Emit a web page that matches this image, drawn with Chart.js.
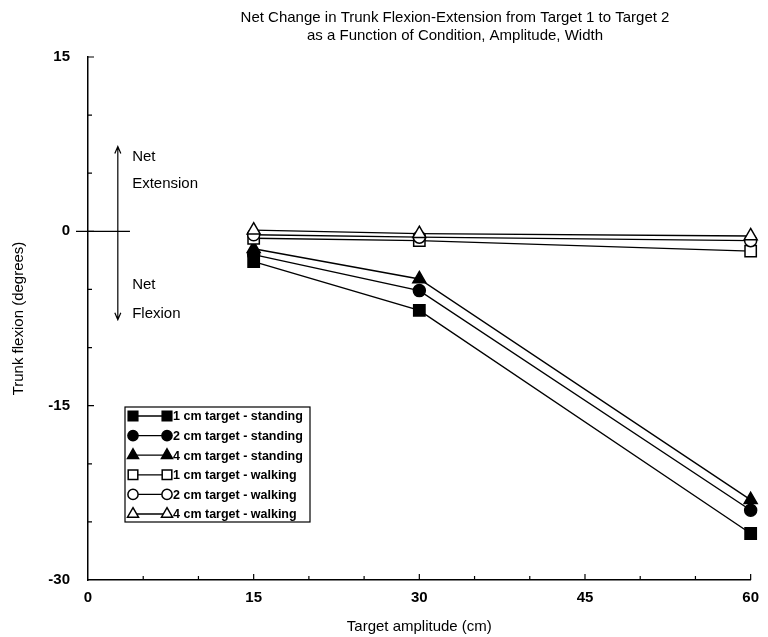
<!DOCTYPE html>
<html>
<head>
<meta charset="utf-8">
<script src="https://cdn.jsdelivr.net/npm/chart.js@4/dist/chart.umd.min.js"></script>
<style>
  html, body { margin: 0; padding: 0; background: #fff; }
  #wrap { width: 768px; height: 637px; }
</style>
</head>
<body>
<div id="wrap"><canvas id="chart" width="768" height="637"></canvas></div>
<script>
// Valori (gradi), per ampiezza del target
const amplitudes = [15, 30, 60];
const standing1cm = [-2.6, -6.8, -26.0];
const standing2cm = [-2.0, -5.1, -24.0];
const standing4cm = [-1.5, -4.1, -23.1];
const walking1cm = [-0.6, -0.8, -1.7];
const walking2cm = [-0.3, -0.5, -0.8];
const walking4cm = [0.1, -0.2, -0.4];

const seriesLabels = [
  '1 cm target - standing',
  '2 cm target - standing',
  '4 cm target - standing',
  '1 cm target - walking',
  '2 cm target - walking',
  '4 cm target - walking'
];

const xTickLabels = [0, 15, 30, 45, 60];
const yTickLabels = [15, 0, -15, -30];

const titleLines = [
  'Net Change in Trunk Flexion-Extension from Target 1 to Target 2',
  'as a Function of Condition, Amplitude, Width'
];

const FONT = "'Liberation Sans', Arial, Helvetica, sans-serif";

function toPoints(values) {
  return amplitudes.map((a, i) => ({ x: a, y: values[i] }));
}

function makeDataset(label, values, style, radius, filled) {
  return {
    label: label,
    data: toPoints(values),
    borderColor: '#000',
    borderWidth: 1.4,
    pointStyle: style,
    pointRadius: radius,
    pointHoverRadius: radius,
    pointBackgroundColor: filled ? '#000' : '#fff',
    pointBorderColor: '#000',
    pointBorderWidth: 1.5,
    tension: 0,
    clip: false
  };
}

const datasets = [
  makeDataset(seriesLabels[5], walking4cm, 'triangle', 7.5, false),
  makeDataset(seriesLabels[4], walking2cm, 'circle', 6, false),
  makeDataset(seriesLabels[3], walking1cm, 'rect', 8, false),
  makeDataset(seriesLabels[2], standing4cm, 'triangle', 7.5, true),
  makeDataset(seriesLabels[1], standing2cm, 'circle', 6, true),
  makeDataset(seriesLabels[0], standing1cm, 'rect', 8, true)
];

// Tacche interne sugli assi, linea dello zero, frecce e testi
const axisDecor = {
  id: 'axisDecor',
  beforeDatasetsDraw(chart) {
    const { ctx, chartArea, scales } = chart;
    const xs = scales.x, ys = scales.y;
    ctx.save();
    ctx.strokeStyle = '#000';
    ctx.lineWidth = 1.2;
    ctx.beginPath();
    xs.ticks.forEach(t => {
      if (t.value === 0) return;
      const px = xs.getPixelForValue(t.value);
      const len = t.value % 15 === 0 ? 6 : 4;
      ctx.moveTo(px, chartArea.bottom);
      ctx.lineTo(px, chartArea.bottom - len);
    });
    ys.ticks.forEach(t => {
      if (t.value === -30) return;
      const py = ys.getPixelForValue(t.value);
      const len = t.value % 15 === 0 ? 6 : 4;
      ctx.moveTo(chartArea.left, py);
      ctx.lineTo(chartArea.left + len, py);
    });
    ctx.stroke();

    // linea dello zero
    const y0 = ys.getPixelForValue(0);
    ctx.lineWidth = 1.2;
    ctx.beginPath();
    ctx.moveTo(chartArea.left - 12, y0);
    ctx.lineTo(xs.getPixelForValue(3.8), y0);
    ctx.stroke();

    // freccia doppia
    const ax = xs.getPixelForValue(2.7);
    const aTop = ys.getPixelForValue(7.3);
    const aBot = ys.getPixelForValue(-7.6);
    ctx.beginPath();
    ctx.moveTo(ax, aTop);
    ctx.lineTo(ax, aBot);
    ctx.moveTo(ax - 3, aTop + 7);
    ctx.lineTo(ax, aTop);
    ctx.lineTo(ax + 3, aTop + 7);
    ctx.moveTo(ax - 3, aBot - 7);
    ctx.lineTo(ax, aBot);
    ctx.lineTo(ax + 3, aBot - 7);
    ctx.stroke();

    ctx.fillStyle = '#000';
    ctx.font = '15px ' + FONT;
    ctx.textAlign = 'left';
    ctx.textBaseline = 'middle';
    const tx = xs.getPixelForValue(4.0);
    ctx.fillText('Net', tx, ys.getPixelForValue(6.4));
    ctx.fillText('Extension', tx, ys.getPixelForValue(4.1));
    ctx.fillText('Net', tx, ys.getPixelForValue(-4.6));
    ctx.fillText('Flexion', tx, ys.getPixelForValue(-7.1));
    ctx.restore();
  },
  afterDraw(chart) {
    const { ctx } = chart;
    ctx.save();
    // titolo su due righe
    ctx.fillStyle = '#000';
    ctx.font = '15px ' + FONT;
    ctx.textAlign = 'center';
    ctx.textBaseline = 'middle';
    ctx.fillText(titleLines[0], 455, 18);
    ctx.fillText(titleLines[1], 455, 36);

    // legenda dentro l'area del grafico
    const box = { left: 125, top: 407, width: 185, height: 115 };
    ctx.fillStyle = '#fff';
    ctx.fillRect(box.left, box.top, box.width, box.height);
    ctx.strokeStyle = '#000';
    ctx.lineWidth = 1.2;
    ctx.strokeRect(box.left, box.top, box.width, box.height);

    const order = [5, 4, 3, 2, 1, 0];
    order.forEach((di, row) => {
      const ds = chart.data.datasets[di];
      const y = box.top + 9 + row * 19.6;
      const x1 = box.left + 8, x2 = box.left + 42;
      ctx.strokeStyle = '#000';
      ctx.lineWidth = 1.3;
      ctx.beginPath();
      ctx.moveTo(x1, y);
      ctx.lineTo(x2, y);
      ctx.stroke();
      const opts = {
        pointStyle: ds.pointStyle,
        radius: ds.pointRadius * 0.85,
        rotation: 0,
        borderWidth: 1.5
      };
      ctx.fillStyle = ds.pointBackgroundColor;
      ctx.strokeStyle = '#000';
      ctx.lineWidth = 1.5;
      Chart.helpers.drawPoint(ctx, opts, x1, y);
      Chart.helpers.drawPoint(ctx, opts, x2, y);
      ctx.fillStyle = '#000';
      ctx.font = 'bold 12.5px ' + FONT;
      ctx.textAlign = 'left';
      ctx.textBaseline = 'middle';
      ctx.fillText(ds.label, x2 + 6, y + 1);
    });
    ctx.restore();
  }
};

new Chart(document.getElementById('chart'), {
  type: 'line',
  data: { datasets: datasets },
  options: {
    responsive: false,
    animation: false,
    layout: { padding: { top: 57, right: 12, left: 0, bottom: 0 } },
    plugins: {
      legend: { display: false },
      title: { display: false },
      tooltip: { enabled: false }
    },
    scales: {
      x: {
        type: 'linear',
        min: 0,
        max: 60,
        afterFit: s => { s.height = 57; },
        border: { display: true, color: '#000', width: 1.5 },
        grid: { display: false, drawTicks: false },
        ticks: {
          stepSize: 5,
          padding: 9,
          maxRotation: 0,
          autoSkip: false,
          color: '#000',
          font: { family: FONT, size: 15, weight: 'bold' },
          callback: v => xTickLabels.includes(v) ? String(v) : ''
        },
        title: {
          display: true,
          text: 'Target amplitude (cm)',
          color: '#000',
          font: { family: FONT, size: 15 },
          padding: { top: 1, bottom: 1 }
        }
      },
      y: {
        type: 'linear',
        min: -30,
        max: 15,
        afterFit: s => { s.width = 88; },
        border: { display: true, color: '#000', width: 1.5 },
        grid: { display: false, drawTicks: false },
        ticks: {
          stepSize: 5,
          padding: 18,
          autoSkip: false,
          color: '#000',
          font: { family: FONT, size: 15, weight: 'bold' },
          callback: v => yTickLabels.includes(v) ? String(v) : ''
        },
        title: {
          display: true,
          text: 'Trunk flexion (degrees)',
          color: '#000',
          font: { family: FONT, size: 15 },
          padding: { top: 10, bottom: 10 }
        }
      }
    }
  },
  plugins: [axisDecor]
});
</script>
</body>
</html>
